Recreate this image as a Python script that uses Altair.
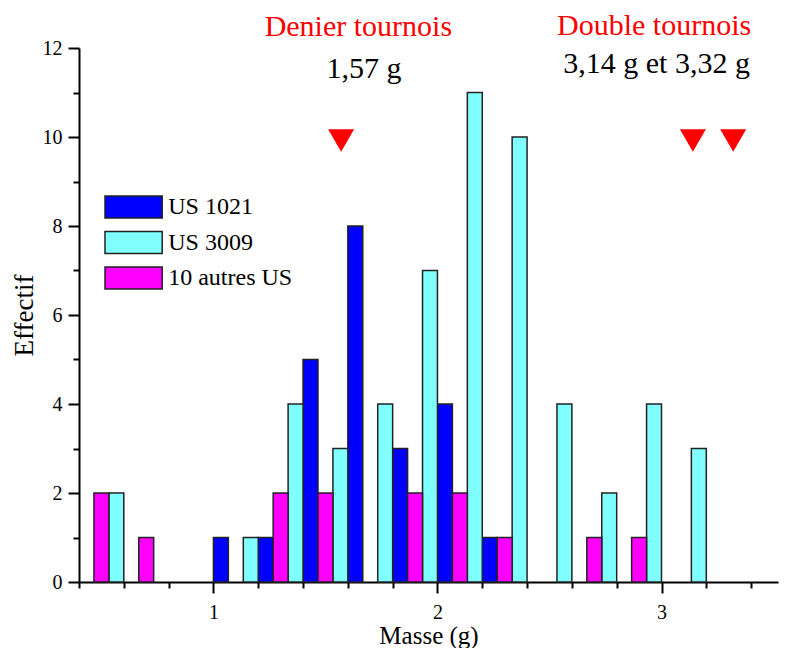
import altair as alt
import pandas as pd

# ---- data ----
bin_centers = [0.5, 0.7, 0.9, 1.1, 1.3, 1.5, 1.7, 1.9, 2.1, 2.3, 2.5, 2.7, 2.9, 3.1]
us1021 = [0, 0, 0, 1, 1, 5, 8, 3, 4, 1, 0, 0, 0, 0]
us3009 = [2, 0, 0, 1, 4, 3, 4, 7, 11, 10, 4, 2, 4, 3]
autres = [2, 1, 0, 0, 2, 2, 0, 2, 2, 1, 0, 1, 1, 0]
series_names = ["US 1021", "US 3009", "10 autres US"]
series_colors = ["#0000FF", "#80FFFF", "#FF00FF"]
slot_in_group = {"US 1021": 0, "10 autres US": 1, "US 3009": 2}
bin_width = 0.2

x_tick_values = [0.4, 0.6, 0.8, 1.0, 1.2, 1.4, 1.6, 1.8, 2.0, 2.2, 2.4, 2.6, 2.8, 3.0, 3.2, 3.4]
y_tick_values = [0, 1, 2, 3, 4, 5, 6, 7, 8, 9, 10, 11, 12]

marker_x = [1.57, 3.14, 3.32]
marker_y = [9.92, 9.92, 9.92]

red_labels = ["Denier tournois", "Double tournois"]
red_x = [1.647, 2.967]
red_y = [12.27, 12.29]
black_labels = ["1,57 g", "3,14 g et 3,32 g"]
black_x = [1.672, 2.978]
black_y = [11.33, 11.44]

FONT = "Liberation Serif"

rows = []
for name, vals in zip(series_names, [us1021, us3009, autres]):
    k = slot_in_group[name]
    for c, v in zip(bin_centers, vals):
        if v > 0:
            x0 = c - bin_width / 2 + k * bin_width / 3
            rows.append({"serie": name, "x0": x0, "x1": x0 + bin_width / 3, "n": v})
bars_df = pd.DataFrame(rows)

x_scale = alt.Scale(domain=[0.4, 3.52], nice=False, zero=False)
y_scale = alt.Scale(domain=[0, 12], nice=False)

major_x = "abs(datum.value - round(datum.value)) < 0.001"
major_y = "datum.value % 2 == 0"

x_axis = alt.Axis(
    values=x_tick_values,
    title="Masse (g)",
    labelExpr=f"{major_x} ? format(datum.value, 'd') : ''",
    tickSize={"condition": {"test": major_x, "value": 11}, "value": 6},
    grid=False,
    labelPadding=9,
    titlePadding=1,
    titleFontSize=25,
)
y_axis = alt.Axis(
    values=y_tick_values,
    title="Effectif",
    labelExpr=f"{major_y} ? datum.label : ''",
    tickSize={"condition": {"test": major_y, "value": 11}, "value": 6},
    grid=False,
    titlePadding=4,
    titleFontSize=27,
)

bars = alt.Chart(bars_df).mark_bar(stroke="#222222", strokeWidth=1.5).encode(
    x=alt.X("x0:Q", scale=x_scale, axis=x_axis),
    x2="x1:Q",
    y=alt.Y("n:Q", scale=y_scale, axis=y_axis),
    y2=alt.datum(0),
    color=alt.Color(
        "serie:N",
        scale=alt.Scale(domain=series_names, range=series_colors),
        sort=series_names,
        legend=alt.Legend(
            title=None,
            orient="none",
            legendX=42.6,
            legendY=147,
            padding=0,
            symbolType="M-2.6,-1H2.6V1H-2.6Z",
            symbolSize=484,
            symbolStrokeColor="#222222",
            symbolStrokeWidth=1.5,
            symbolOpacity=1,
            labelFont=FONT,
            labelFontSize=24,
            labelColor="black",
            labelOffset=22.6,
            rowPadding=7.5,
        ),
    ),
)

markers_df = pd.DataFrame({"x": marker_x, "y": marker_y})
markers = alt.Chart(markers_df).mark_point(
    shape="triangle-down", filled=True, color="#FF0000", size=676, opacity=1
).encode(x=alt.X("x:Q", scale=x_scale), y=alt.Y("y:Q", scale=y_scale))

red_df = pd.DataFrame({"t": red_labels, "x": red_x, "y": red_y})
red_text = alt.Chart(red_df).mark_text(
    font=FONT, fontSize=30, color="#FF0000", align="center", baseline="alphabetic"
).encode(x=alt.X("x:Q", scale=x_scale), y=alt.Y("y:Q", scale=y_scale), text="t:N")

black_df = pd.DataFrame({"t": black_labels, "x": black_x, "y": black_y})
black_text = alt.Chart(black_df).mark_text(
    font=FONT, fontSize=30, color="black", align="center", baseline="alphabetic"
).encode(x=alt.X("x:Q", scale=x_scale), y=alt.Y("y:Q", scale=y_scale), text="t:N")

chart = (
    alt.layer(bars, markers, red_text, black_text)
    .properties(
        width=699,
        height=534,
        autosize=alt.AutoSizeParams(type="none"),
        padding={"left": 71, "top": 40, "right": 2, "bottom": 66},
        background="white",
    )
    .configure_view(stroke=None)
    .configure_axis(
        domainColor="black",
        domainWidth=2,
        tickColor="black",
        tickWidth=2,
        labelFont=FONT,
        labelFontSize=20,
        labelColor="black",
        labelPadding=6,
        titleFont=FONT,
        titleFontWeight="normal",
        titleColor="black",
    )
)

chart.save("out.html", embed_options={"renderer": "svg", "actions": False})
